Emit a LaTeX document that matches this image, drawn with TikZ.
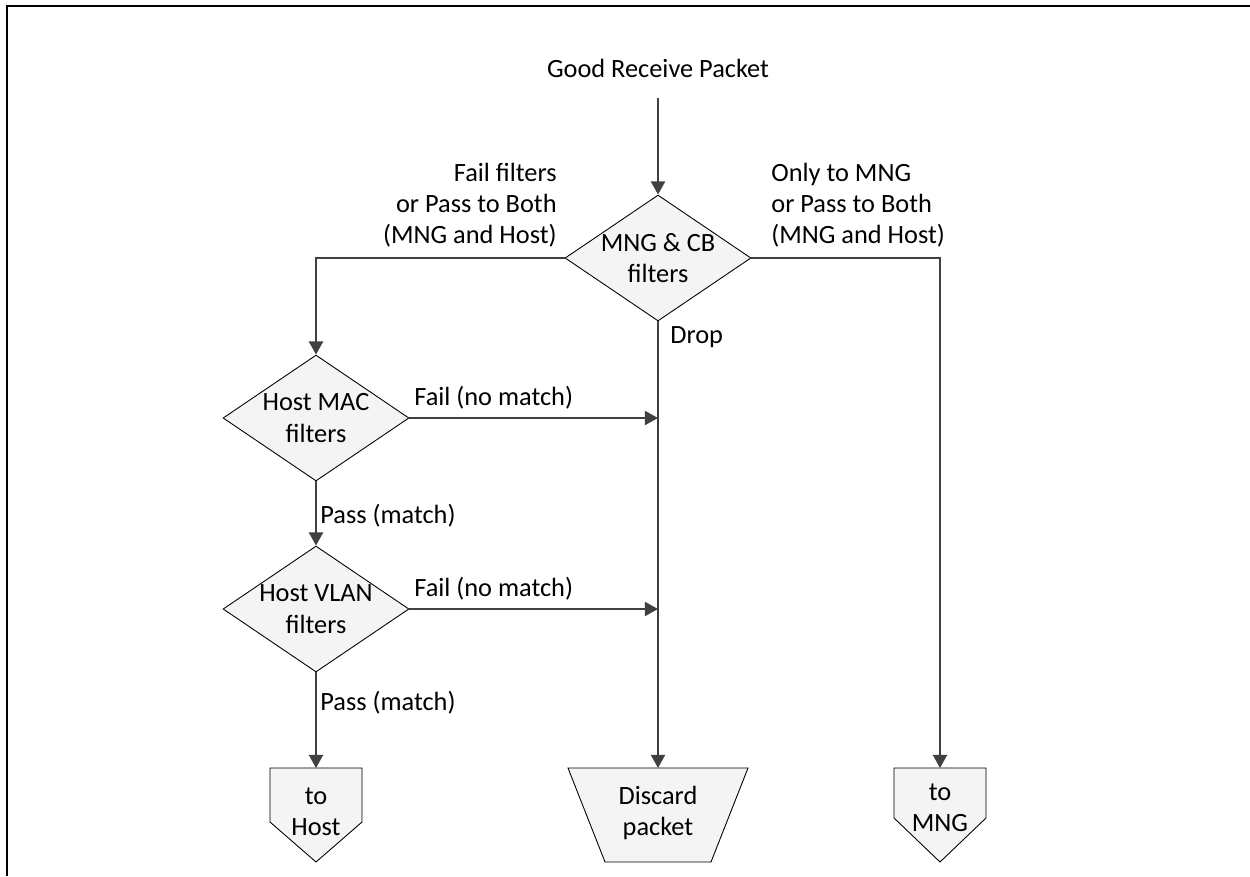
\documentclass[tikz,border=0pt]{standalone}
\usepackage{fontspec}
\setmainfont{Carlito}
\usetikzlibrary{arrows.meta,shapes.geometric}
\definecolor{linegray}{HTML}{404040}
\definecolor{shapefill}{HTML}{F4F4F4}
\begin{document}
\begin{tikzpicture}[x=0.02cm,y=-0.02cm,
  every node/.style={font=\fontsize{15}{17.8}\selectfont},
  flow/.style={draw=linegray,line width=1.2pt,-{Triangle[length=7.5pt,width=8pt]}},
  decision/.style={diamond,draw=black,line width=0.5pt,fill=shapefill,
    minimum width=3.72cm,minimum height=2.52cm,inner sep=0pt},
  outline/.style={draw=black,line width=0.5pt,fill=shapefill},
  txt/.style={align=center,inner sep=0pt},
  lbl/.style={inner sep=0pt}]
\useasboundingbox (0,0) rectangle (1250,876);
% frame along the top and left edges
\draw[line width=1.5pt] (7,876) -- (7,6) -- (1250,6);

% start text
\node[txt] (start) at (658,68) {Good Receive Packet};

% decisions
\node[decision,label={[txt]center:MNG \& CB\\filters}] (mng) at (658,258) {};
\node[decision,label={[txt]center:Host MAC\\filters}] (mac) at (316,418) {};
\node[decision,label={[txt]center:Host VLAN\\filters}] (vlan) at (316,609) {};

% off-page connectors and discard box
\coordinate (hostTop) at (316,768);
\coordinate (mngTop) at (940,768);
\coordinate (discTop) at (658,768);
\draw[outline] (270,768) -- (362,768) -- (362,822) -- (316,862) -- (270,822) -- cycle;
\node[txt] (host) at (316,812) {to\\Host};
\draw[outline] (894,768) -- (986,768) -- (986,818) -- (940,862) -- (894,818) -- cycle;
\node[txt] (tomng) at (940,808) {to\\MNG};
\draw[outline] (568,768) -- (748,768) -- (711,862) -- (605,862) -- cycle;
\node[txt] (disc) at (658,813) {Discard\\packet};

% junction points on the drop line
\coordinate (j1) at (658,418);
\coordinate (j2) at (658,609);

% connectors
\draw[flow] (start) ++(0,30) -- (mng.north);
\draw[flow] (mng.west) -| (mac.north);
\draw[flow] (mng.east) -| (mngTop);
\draw[flow] (mng.south) -- (discTop);
\draw[flow] (mac.east) -- (j1);
\draw[flow] (vlan.east) -- (j2);
\draw[flow] (mac.south) -- (vlan.north);
\draw[flow] (vlan.south) -- (hostTop);

% connector labels
\node[lbl,align=right,anchor=east] (lfail) at (557,205) {Fail filters\\or Pass to Both\\(MNG and Host)};
\node[lbl,align=left,anchor=west] (lonly) at (771,205) {Only to MNG\\or Pass to Both\\(MNG and Host)};
\node[lbl,anchor=west] (ldrop) at (670,337) {Drop};
\node[lbl,anchor=west] (lf1) at (414,398) {Fail (no match)};
\node[lbl,anchor=west] (lf2) at (414,589) {Fail (no match)};
\node[lbl,anchor=west] (lp1) at (320,516) {Pass (match)};
\node[lbl,anchor=west] (lp2) at (320,703) {Pass (match)};
\end{tikzpicture}
\end{document}
